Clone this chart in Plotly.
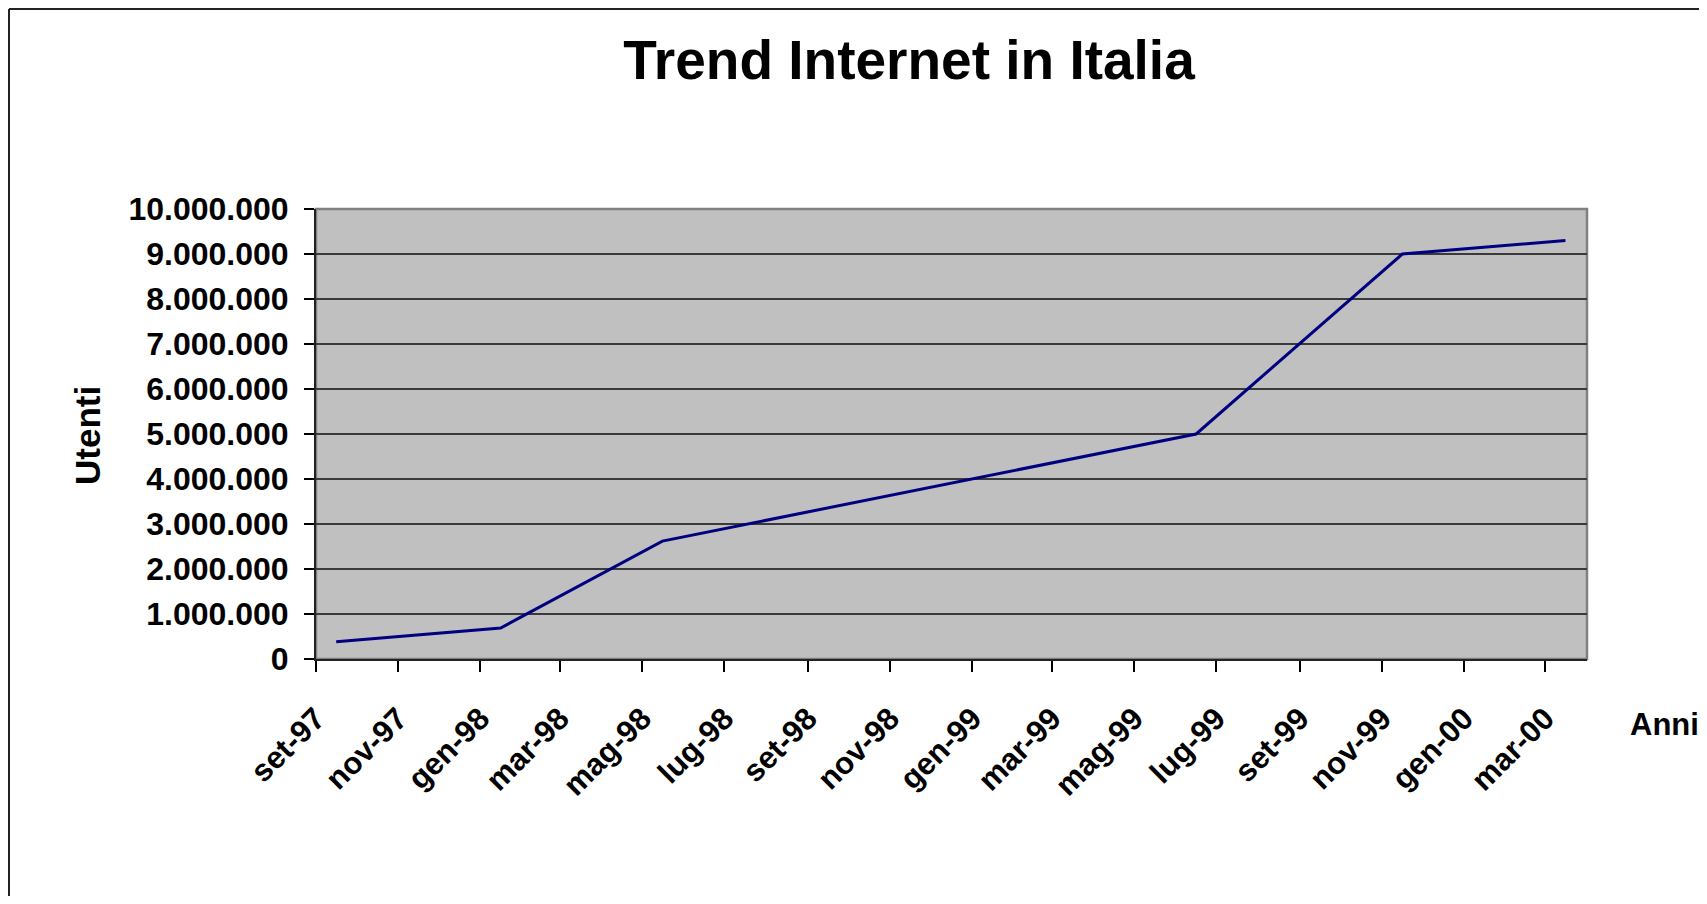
import plotly.graph_objects as go

# Data
dates = ["1997-09-16", "1998-01-16", "1998-05-16", "1999-06-16", "1999-11-16", "2000-03-16"]
utenti = [385000, 690000, 2620000, 5000000, 9000000, 9300000]

tick_dates = ["1997-09-01", "1997-11-01", "1998-01-01", "1998-03-01", "1998-05-01", "1998-07-01",
              "1998-09-01", "1998-11-01", "1999-01-01", "1999-03-01", "1999-05-01", "1999-07-01",
              "1999-09-01", "1999-11-01", "2000-01-01", "2000-03-01"]
tick_labels = ["set-97", "nov-97", "gen-98", "mar-98", "mag-98", "lug-98", "set-98", "nov-98",
               "gen-99", "mar-99", "mag-99", "lug-99", "set-99", "nov-99", "gen-00", "mar-00"]
y_ticks = [0, 1000000, 2000000, 3000000, 4000000, 5000000, 6000000, 7000000, 8000000, 9000000, 10000000]

FONT = "Liberation Sans, Arial, sans-serif"
W, H = 1691, 888
L, R, T, B = 308, 1579, 201, 651  # plot area in figure px


def px_x(p):
    return (p - L) / (R - L)


def px_y(p):
    return (B - p) / (B - T)


fig = go.Figure()
fig.add_trace(go.Scatter(x=dates, y=utenti, mode="lines",
                         line=dict(color="#000080", width=3), hoverinfo="x+y"))

fig.update_layout(
    width=W, height=H,
    margin=dict(l=L, r=W - R, t=T, b=H - B, autoexpand=False),
    paper_bgcolor="white",
    plot_bgcolor="#C0C0C0",
    separators=",.",
    showlegend=False,
    font=dict(family=FONT, color="black"),
    title=dict(text="Trend Internet in Italia", x=901 / W, xanchor="center",
               y=1 - 52 / H, yanchor="middle", xref="container", yref="container",
               font=dict(family=FONT, size=55, weight="bold", color="black")),
)

fig.update_xaxes(
    type="date", range=["1997-09-01", "2000-04-01"],
    tickmode="array", tickvals=tick_dates, ticktext=tick_labels,
    tickangle=-45, ticks="outside", ticklen=11, tickwidth=1.5, tickcolor="black",
    showgrid=False, zeroline=False,
    showline=True, linecolor="#222222", linewidth=2,
    tickfont=dict(family=FONT, size=31, weight="bold", color="black"),
    ticklabelstandoff=16,
)
fig.update_yaxes(
    range=[0, 10000000], tickmode="array", tickvals=y_ticks, tickformat=",d",
    ticks="outside", ticklen=10, tickwidth=1.5, tickcolor="black",
    showgrid=True, gridcolor="#3a3a3a", gridwidth=1.5, zeroline=False,
    showline=True, linecolor="#222222", linewidth=2,
    tickfont=dict(family=FONT, size=32, weight="bold", color="black"),
    ticklabelstandoff=9,
)

# gray plot-area border (top/right)
fig.add_shape(type="rect", xref="paper", yref="paper", x0=0, x1=1, y0=0, y1=1,
              line=dict(color="#808080", width=2.5), layer="below")
# outer chart frame (left and top edges only; the rest lies outside the picture)
fig.add_shape(type="line", xref="paper", yref="paper",
              x0=px_x(1), x1=px_x(1), y0=px_y(H), y1=px_y(1),
              line=dict(color="#222222", width=2), layer="above")
fig.add_shape(type="line", xref="paper", yref="paper",
              x0=px_x(1), x1=px_x(W), y0=px_y(1), y1=px_y(1),
              line=dict(color="#222222", width=2), layer="above")

fig.add_annotation(text="Utenti", xref="paper", yref="paper", x=px_x(79), y=px_y(428),
                   textangle=-90, showarrow=False, xanchor="center", yanchor="middle",
                   font=dict(family=FONT, size=35, weight="bold", color="black"))
fig.add_annotation(text="Anni", xref="paper", yref="paper", x=px_x(1620), y=px_y(716),
                   showarrow=False, xanchor="left", yanchor="middle",
                   font=dict(family=FONT, size=31, weight="bold", color="black"))

fig.write_html("out.html")
